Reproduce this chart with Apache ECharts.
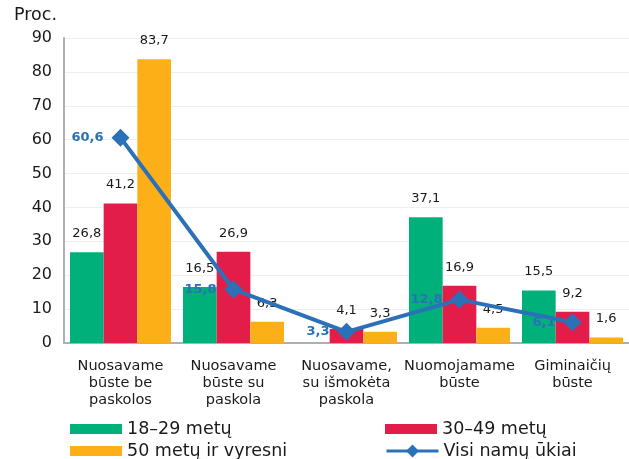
<!DOCTYPE html>
<html><head><meta charset="utf-8">
<script src="https://cdn.jsdelivr.net/npm/echarts@6/dist/echarts.min.js"></script>
<style>html,body{margin:0;padding:0;background:#fff}#c{width:629px;height:459px}</style>
</head><body><div id="c"></div>
<script>
var categories = ['Nuosavame\nbūste be\npaskolos','Nuosavame\nbūste su\npaskola','Nuosavame,\nsu išmokėta\npaskola','Nuomojamame\nbūste','Giminaičių\nbūste'];
var s18 = [26.8, 16.5, null, 37.1, 15.5];
var s30 = [41.2, 26.9, 4.1, 16.9, 9.2];
var s50 = [83.7, 6.3, 3.3, 4.5, 1.6];
var visi = [60.6, 15.8, 3.3, 12.8, 6.1];
var names = ['18–29 metų','30–49 metų','50 metų ir vyresni','Visi namų ūkiai'];
var FONT = 'DejaVu Sans';
function fmt(p){ return p.value==null ? '' : String(p.value).replace('.', ','); }
var barLabel = {show:true, position:'top', distance:12, color:'#1a1a1a', fontSize:13, fontFamily:FONT, formatter:fmt};
var legTxt = {fontSize:17.5, color:'#1a1a1a', fontFamily:FONT};
function leg(name, left, top, extra){
  var o = {left:left, top:top, icon:'rect', itemWidth:52, itemHeight:10, data:[name], textStyle:legTxt, padding:0, itemGap:0};
  if (extra) for (var k in extra) o[k] = extra[k];
  return o;
}
var chart = echarts.init(document.getElementById('c'));
chart.setOption({
  animation:false,
  textStyle:{fontFamily:FONT},
  graphic:[{type:'text', left:14, top:6, style:{text:'Proc.', fontSize:17.5, fontFamily:FONT, fill:'#1a1a1a'}}],
  grid:{left:64, right:0, top:38, bottom:116},
  legend:[ leg(names[0], 70, 420), leg(names[2], 70, 442), leg(names[1], 385, 420),
           leg(names[3], 385, 442, {icon:null, itemHeight:16, lineStyle:{width:3}}) ],
  xAxis:{type:'category', data:categories, axisTick:{show:false}, axisLine:{lineStyle:{color:'#b0b0b0', width:2}},
    axisLabel:{interval:0, fontSize:14.5, color:'#1a1a1a', lineHeight:17, margin:15, fontFamily:FONT}},
  yAxis:{type:'value', min:0, max:90, interval:10, axisLine:{show:true, lineStyle:{color:'#b0b0b0', width:2}},
    splitLine:{lineStyle:{color:'#efefef'}}, axisLabel:{fontSize:16, color:'#1a1a1a', margin:12, fontFamily:FONT}},
  series:[
    {name:names[0], type:'bar', data:s18, barGap:'0%', barCategoryGap:'10.6%', itemStyle:{color:'#00b07b'}, label:barLabel},
    {name:names[1], type:'bar', data:s30, itemStyle:{color:'#e31d4a'}, label:barLabel},
    {name:names[2], type:'bar', data:s50, itemStyle:{color:'#fdaf17'}, label:barLabel},
    {name:names[3], type:'line', data:visi, z:5, symbol:'diamond', symbolSize:18, lineStyle:{color:'#2b71b8', width:4}, itemStyle:{color:'#2b71b8'},
      label:{show:true, position:'left', distance:8, color:'#2b71b8', fontWeight:'bold', fontSize:13, fontFamily:FONT, formatter:fmt}}
  ]
});
</script></body></html>
